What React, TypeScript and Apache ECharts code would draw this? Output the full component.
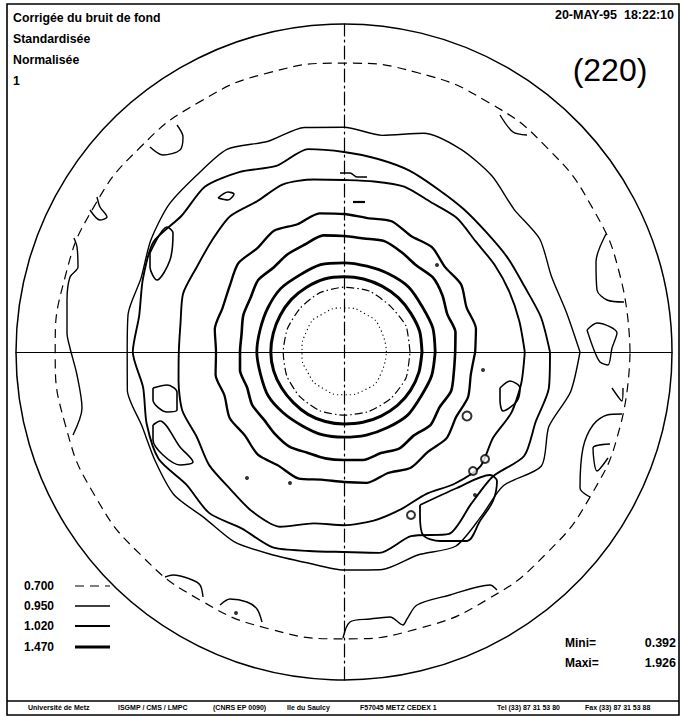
import React, { useEffect, useRef } from "react";
import * as echarts from "echarts";

// ---------- angles (degrees, counter-clockwise from east) ----------
const ANG_10 = [0,10,20,30,40,50,60,70,80,90,100,110,120,130,140,150,160,170,180,190,200,210,220,230,240,250,260,270,280,290,300,310,320,330,340,350];
const ANG_15 = [0,15,30,45,60,75,90,105,120,135,150,165,180,195,210,225,240,255,270,285,300,315,330,345];
const ANG_225 = [0,22.5,45,67.5,90,112.5,135,157.5,180,202.5,225,247.5,270,292.5,315,337.5];
const ANG_30 = [0,30,60,90,120,150,180,210,240,270,300,330];

// ---------- closed contour radii (projection units, outer circle = 82) ----------
const DOTTED_R = [10.6,10.7,10.9,11.0,10.9,10.7,10.5,10.4,10.5,10.7,10.8,10.7];
const DASHDOT_R = [16.5,16.8,16.3,16.5,16.2,16.0,15.5,15.3,15.2,15.5,15.7,15.9,15.8,16.1,16.5,16.8];
const C_R = [19.5,19.6,19.3,19.2,19.0,18.9,18.8,18.9,18.7,18.6,18.4,18.3,18.3,18.2,18.0,17.9,18.0,18.0,18.0,18.2,18.5,18.9,19.2,19.4];
const D_R = [22.8,23.0,22.6,22.9,22.5,22.2,22.3,22.6,22.2,22.4,22.0,21.7,21.8,21.6,21.9,21.5,21.2,21.4,21.3,21.5,21.8,22.4,22.2,22.7];
const E_R = [27.8,28.3,27.5,28.4,29.0,28.2,28.8,29.5,28.8,29.0,29.6,28.6,28.2,27.5,28.0,27.0,26.8,26.0,26.0,26.4,25.8,26.5,26.2,26.8,27.3,26.8,27.0,27.0,27.4,26.9,27.8,27.2,28.3,27.6,28.5,27.9];
const F_R = [32.8,33.5,32.6,33.8,33.0,34.2,33.5,34.8,34.0,34.5,35.2,34.0,35.0,33.8,34.5,33.0,32.3,32.8,32.0,32.6,31.8,33.0,32.4,33.5,32.8,33.6,32.4,32.5,33.2,32.2,33.4,32.6,33.5,32.4,33.0,32.2];
const G_R = [45.2,44.5,44.0,43.5,43.0,43.8,43.3,44.0,43.3,43.0,43.8,44.6,43.5,44.3,43.2,42.5,42.8,41.5,41.3,42.0,43.0,42.5,44.0,44.5,46.0,46.5,43.5,43.3,42.8,41.8,41.0,43.0,44.5,43.0,44.5,45.0];
const H_IN_R = [51.5,50.0,48.0,47.2,46.5,46.6,47.0,48.2,49.0,50.0,51.5,49.5,52.0,54.0,53.0,55.0,53.5,52.0,52.8,51.0,52.5,53.5,51.5,52.5,51.0,52.0,50.5,50.0,51.0,49.0,52.5,49.5,48.5,52.0,51.0,52.0];
const H_OUT_R = [59.0,56.5,55.2,56.5,55.5,57.5,58.5,58.2,55.0,56.2,57.0,56.0,58.5,57.5,57.2,55.8,54.0,54.8,54.2,55.0,53.8,54.5,55.5,54.2,54.8,53.8,53.5,54.5,55.2,54.0,56.0,53.5,52.0,57.0,54.5,57.5];
const DASHED_R = [71.5,71.6,71.8,72.0,72.1,72.2,72.2,72.3,72.2,72.2,72.3,72.2,72.2,72.0,71.9,71.8,71.7,71.7,71.7,71.6,71.5,71.4,71.4,71.5];

// ---------- open contour fragments and islands (x, y in projection units) ----------
const NW_ARC = [[-48.5,51.25],[-45.25,49.25],[-41,50.5],[-40.25,53.75],[-41.75,56.75]];
const W_HOOK = [[-63.5,35.5],[-61,33],[-59.25,33.75],[-61,36.25],[-61.75,38.75]];
const W_LONG = [[-67.5,28.5],[-66.75,26.25],[-66.5,21.25],[-68.5,18.75],[-69.25,13],[-69.25,4.75],[-68.5,1],[-66.75,-5.75],[-65.5,-14],[-67.75,-20.75]];
const SW_ARC1 = [[-44.75,-56.25],[-42.75,-55.75],[-38.5,-56.75],[-36,-58.25],[-35.25,-61.25]];
const SW_ARC2 = [[-31,-63.25],[-28.5,-61.75],[-24.25,-62.5],[-21.75,-64.25],[-20.5,-67.5]];
const S_ARC = [[-0.25,-71.5],[1.5,-67.5],[6.5,-66.75],[11.5,-66.25],[14.75,-68.25],[15.75,-66.75],[18.25,-63.25],[26.5,-60.75],[36.5,-58.25],[38.25,-59.5]];
const E_ARC = [[61.5,-36.25],[59,-34],[59.75,-24],[62.25,-18.25],[65.75,-15.75],[69.5,-15.5]];
const E_V = [[66.5,-23],[62.25,-24],[63.25,-29.75],[66,-26.5]];
const E_SMALLV = [[67,-9],[69.5,-12.25],[69.75,-9]];
const NE_ARC = [[65.5,29.5],[63,22.5],[63.25,15.5],[65.75,13],[70,12.5]];
const N_ARC = [[39,59.25],[42.25,55],[45.75,54.25]];
const E_LOOP = [[60.75,5.5],[63.25,7.25],[68.25,4.75],[67,1],[66,-3.25],[64,-2.5],[62.5,0.5],[60.75,5.5]];
const NW_LOOP = [[-31.5,38.5],[-29,40],[-27.5,39.5],[-29,38],[-31.5,38.5]];
const W_OVAL = [[-48.5,24.75],[-44.25,31.25],[-42.75,29.75],[-43.5,23],[-46.75,18],[-48.5,21.25],[-48.5,24.75]];
const SW_ISLE1 = [[-47.75,-9],[-44.25,-8.25],[-41.75,-10],[-41.75,-14.5],[-44.25,-15],[-47.75,-12],[-47.75,-9]];
const SW_ISLE2 = [[-47.75,-18.25],[-46,-17.25],[-41,-23.75],[-37.75,-27.5],[-41,-28.25],[-45.25,-25.75],[-47.75,-22],[-47.75,-18.25]];
const SE_ISLE = [[39,-9],[41.5,-7.25],[44,-9],[43.25,-12.25],[39.75,-14.75],[39,-12],[39,-9]];
const SE_BLOB = [[19,-38.25],[28.25,-34],[36.5,-30.75],[38.25,-32.25],[37.25,-37.25],[34,-42.25],[30.75,-47.25],[24,-47.25],[19.75,-45.75],[19,-40.75],[19,-38.25]];
const N_DASH = [[2.25,37.5],[5.25,37.5]];
const N_BRANCH = [[-1,44.75],[1.5,44.75],[3.25,43.75],[5.75,43.75]];
const BIG_RINGLET = [[30.75,-16]];
const SMALL_RINGLETS = [[35.25,-26.75],[32.25,-29.75],[16.75,-40.75]];
const DOTS = [[32.75,-35.75],[34.75,-4.5],[23.25,21.75],[-27,-65.25],[-24.25,-31.5],[-13.5,-32.75]];

// ---------- texts ----------
const HEADER_LINES = ["Corrigée du bruit de fond", "Standardisée", "Normalisée", "1"];
const DATE_TEXT = "20-MAY-95  18:22:10";
const PLANE_TEXT = "(220)";
const LEVELS = ["0.700", "0.950", "1.020", "1.470"];
const MINI = "0.392";
const MAXI = "1.926";
const FOOTER_PARTS = [
  "Université de Metz",
  "ISGMP / CMS / LMPC",
  "(CNRS EP 0090)",
  "Ile du Saulcy",
  "F57045 METZ CEDEX 1",
  "Tel (33) 87 31 53 80",
  "Fax (33) 87 31 53 88",
];

const FONT = '"Liberation Sans", Arial, Helvetica, sans-serif';

function ring(radii: number[], angles: number[]) {
  const pts = radii.map((r, i) => [r, angles[i]]);
  pts.push([radii[0], 360]);
  return pts;
}

export default function App() {
  const ref = useRef<HTMLDivElement>(null);

  useEffect(() => {
    if (!ref.current) return;
    const chart = echarts.init(ref.current, undefined, { renderer: "svg" });

    const polarLine = (name: string | undefined, data: any[], width: number, type: any = "solid", smooth: any = 0.25) => ({
      type: "line",
      name,
      coordinateSystem: "polar",
      polarIndex: 0,
      data,
      symbol: "none",
      smooth,
      silent: true,
      lineStyle: { color: "#000", width, type },
      z: 3,
    });

    const xyLine = (name: string | undefined, data: any[], width: number) => ({
      type: "line",
      name,
      xAxisIndex: 0,
      yAxisIndex: 0,
      data,
      symbol: "none",
      smooth: 0.3,
      silent: true,
      lineStyle: { color: "#000", width },
      z: 3,
    });

    const legendRows = [
      { y: 586, w: 1.2, dash: [9, 6] },
      { y: 606, w: 1.3, dash: null },
      { y: 626, w: 1.9, dash: null },
      { y: 647, w: 3.2, dash: null },
    ];

    const footerX = [28, 118, 213, 287, 360, 497, 585];

    const txt = (text: string, x: number, y: number, size: number, weight: string, align = "left") => ({
      type: "text",
      x,
      y,
      silent: true,
      z: 10,
      style: {
        text,
        fill: "#000",
        fontSize: size,
        fontWeight: weight,
        fontFamily: FONT,
        align,
        verticalAlign: "middle",
      },
    });

    const graphic: any[] = [
      { type: "rect", shape: { x: 7, y: 4, width: 672, height: 711 }, style: { fill: "none", stroke: "#000", lineWidth: 1.6 }, silent: true, z: 10 },
      { type: "line", shape: { x1: 7, y1: 701, x2: 679, y2: 701 }, style: { stroke: "#000", lineWidth: 1.4 }, silent: true, z: 10 },
      ...HEADER_LINES.map((t, i) => txt(t, 13, 18 + i * 21, 12.3, "bold")),
      txt(DATE_TEXT, 674, 15, 12.5, "bold", "right"),
      txt(PLANE_TEXT, 610, 70, 32, "normal", "center"),
      ...LEVELS.map((t, i) => txt(t, 24, legendRows[i].y, 12, "bold")),
      ...legendRows.map((r) => ({
        type: "line",
        silent: true,
        z: 10,
        shape: { x1: 75, y1: r.y, x2: 110, y2: r.y },
        style: { stroke: "#000", lineWidth: r.w, lineDash: r.dash || undefined },
      })),
      txt("Mini=", 565, 643, 12, "bold"),
      txt(MINI, 676, 643, 12.5, "bold", "right"),
      txt("Maxi=", 565, 663, 12, "bold"),
      txt(MAXI, 676, 663, 12.5, "bold", "right"),
      ...FOOTER_PARTS.map((t, i) => txt(t, footerX[i], 707, 7, "bold")),
    ];

    const hidden = { show: false };

    chart.setOption({
      animation: false,
      backgroundColor: "#fff",
      polar: { center: [344, 352], radius: 328 },
      angleAxis: {
        type: "value",
        min: 0,
        max: 360,
        startAngle: 0,
        clockwise: false,
        axisLine: { show: true, lineStyle: { color: "#000", width: 1.5 } },
        axisTick: hidden,
        axisLabel: hidden,
        splitLine: hidden,
      },
      radiusAxis: {
        type: "value",
        min: 0,
        max: 82,
        axisLine: hidden,
        axisTick: hidden,
        axisLabel: hidden,
        splitLine: hidden,
      },
      grid: { left: 16, top: 24, width: 656, height: 656 },
      xAxis: {
        type: "value",
        min: -82,
        max: 82,
        axisLine: { show: true, onZero: true, lineStyle: { color: "#000", width: 1.2 } },
        axisTick: hidden,
        axisLabel: hidden,
        splitLine: hidden,
      },
      yAxis: {
        type: "value",
        min: -82,
        max: 82,
        axisLine: { show: true, onZero: true, lineStyle: { color: "#000", width: 1.2, type: [13, 4, 2, 4] } },
        axisTick: hidden,
        axisLabel: hidden,
        splitLine: hidden,
      },
      graphic,
      series: [
        polarLine("0.700", ring(DASHED_R, ANG_15), 1.2, [9, 6], 0.5),
        polarLine("0.950", ring(H_OUT_R, ANG_10), 1.4),
        polarLine("1.020", ring(H_IN_R, ANG_10), 1.9),
        polarLine(undefined, ring(G_R, ANG_10), 1.9),
        polarLine(undefined, ring(F_R, ANG_10), 2.3),
        polarLine(undefined, ring(E_R, ANG_10), 2.6),
        polarLine(undefined, ring(D_R, ANG_15), 2.8),
        polarLine("1.470", ring(C_R, ANG_15), 3.0),
        polarLine(undefined, ring(DASHDOT_R, ANG_225), 1.2, [8, 3, 1.5, 3], 0.2),
        polarLine(undefined, ring(DOTTED_R, ANG_30), 1.1, [1.2, 3], 0.6),
        ...[NW_ARC, W_HOOK, W_LONG, SW_ARC1, SW_ARC2, S_ARC, E_ARC, E_V, E_SMALLV, NE_ARC, N_ARC, E_LOOP].map((d) => xyLine("0.950", d, 1.4)),
        ...[NW_LOOP, W_OVAL, SW_ISLE1, SW_ISLE2, SE_ISLE, N_BRANCH].map((d) => xyLine("0.950", d, 1.6)),
        xyLine("1.020", SE_BLOB, 1.8),
        xyLine("1.020", N_DASH, 2.2),
        {
          type: "scatter",
          data: BIG_RINGLET,
          symbol: "emptyCircle",
          symbolSize: 9,
          silent: true,
          itemStyle: { color: "#000", borderWidth: 2.5 },
          z: 4,
        },
        {
          type: "scatter",
          data: SMALL_RINGLETS,
          symbol: "emptyCircle",
          symbolSize: 8,
          silent: true,
          itemStyle: { color: "#000", borderWidth: 1.5 },
          z: 4,
        },
        {
          type: "scatter",
          data: DOTS,
          symbol: "circle",
          symbolSize: 4,
          silent: true,
          itemStyle: { color: "#000" },
          z: 4,
        },
      ],
    });

    return () => chart.dispose();
  }, []);

  return (
    <div
      ref={ref}
      style={{ position: "absolute", left: 0, top: 0, width: 680, height: 716, background: "#fff" }}
    />
  );
}
